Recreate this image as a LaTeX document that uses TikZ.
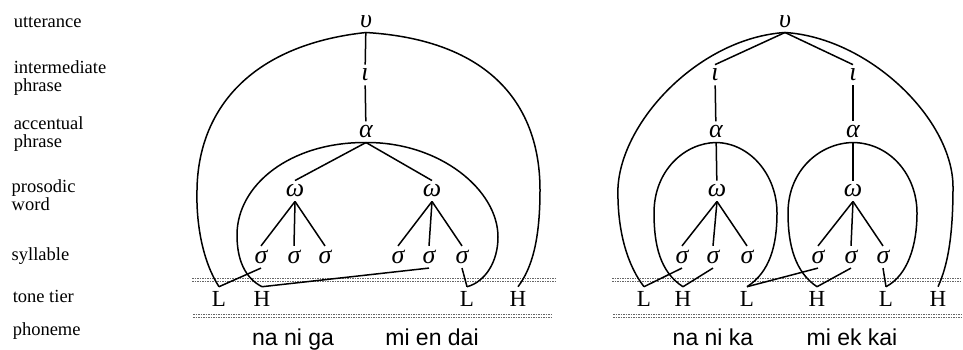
\documentclass[tikz,border=0pt]{standalone}
\usepackage{fontspec}
\setmainfont{Liberation Serif}
\newfontfamily\sylfont{Liberation Sans}

\begin{document}
\begin{tikzpicture}[x=1pt,y=-1pt,line width=1.5pt,
  lvl/.style={anchor=west,align=left,inner sep=0pt,font=\fontsize{18.5}{18}\selectfont},
  gk/.style={inner sep=3.5pt,font=\fontsize{26}{26}\selectfont\itshape},
  tone/.style={inner sep=4pt,font=\fontsize{23}{23}\selectfont},
  seg/.style={anchor=base,inner sep=0pt,font=\sylfont\fontsize{23}{23}\selectfont},
  tier/.style={black!60,line width=.9pt,dash pattern=on 1.5pt off 1pt}]
\useasboundingbox (0,0) rectangle (963,350);
% level names
\node[lvl] (utt) at (13,22) {utterance};
\node[lvl] (ip) at (13,78) {intermediate\\phrase};
\node[lvl] (ap) at (13,134) {accentual\\phrase};
\node[lvl] (pw) at (11,195) {prosodic\\word};
\node[lvl] (syl) at (11,256) {syllable};
\node[lvl] (tt) at (12,296) {tone tier};
\node[lvl] (ph) at (12,331) {phoneme};
% tiers
\foreach \y in {278.5,281} \draw[tier] (192,\y) -- (555,\y) (612,\y) -- (962,\y);
\foreach \y in {314.5,317} \draw[tier] (193,\y) -- (553,\y) (613,\y) -- (962,\y);

% left tree
\node[gk] (u1) at (366,22) {υ};
\node[gk] (i1) at (365,75) {ι};
\node[gk] (a1) at (366,132) {α};
\node[gk] (w1) at (295,191) {ω};
\node[gk] (w2) at (432,191) {ω};
\node[gk] (s1) at (261,257) {σ};
\node[gk] (s2) at (294,257) {σ};
\node[gk] (s3) at (325,257) {σ};
\node[gk] (s4) at (398,257) {σ};
\node[gk] (s5) at (429,257) {σ};
\node[gk] (s6) at (462,257) {σ};
\node[tone] (t1) at (219,299) {L};
\node[tone] (t2) at (262,299) {H};
\node[tone] (t3) at (467,299) {L};
\node[tone] (t4) at (518,299) {H};
\draw (u1) -- (i1) -- (a1);
\foreach \w in {w1,w2} \draw (a1.south) -- (\w.north);
\foreach \s in {s1,s2,s3} \draw (w1.south) -- (\s.north);
\foreach \s in {s4,s5,s6} \draw (w2.south) -- (\s.north);
\draw (s1.south) -- (t1.north);
\draw (s5.south) -- (t2.north);
\draw (s6.south) -- (t3.north);
\draw (t1.north) .. controls (203,262) and (196,225) .. (197,190)
  .. controls (198,110) and (250,45) .. (u1.south)
  .. controls (490,40) and (540,105) .. (540,190)
  .. controls (540,240) and (532,268) .. (t4.north);
\draw (t2.north) .. controls (245,278) and (237,260) .. (237,235)
  .. controls (237,185) and (290,142) .. (a1.south)
  .. controls (440,142) and (498,190) .. (498,237)
  .. controls (498,262) and (485,282) .. (t3.north);
\node[seg] (p1) at (293,345) {na ni ga};
\node[seg] (p2) at (432,345) {mi en dai};

% right tree
\node[gk] (u2) at (785,22) {υ};
\node[gk] (i2) at (715,75) {ι};
\node[gk] (i3) at (853,75) {ι};
\node[gk] (a2) at (716,132) {α};
\node[gk] (a3) at (853,132) {α};
\node[gk] (w3) at (717,191) {ω};
\node[gk] (w4) at (853,191) {ω};
\node[gk] (s7) at (682,257) {σ};
\node[gk] (s8) at (713,257) {σ};
\node[gk] (s9) at (747,257) {σ};
\node[gk] (s10) at (818,257) {σ};
\node[gk] (s11) at (851,257) {σ};
\node[gk] (s12) at (883,257) {σ};
\node[tone] (t5) at (644,299) {L};
\node[tone] (t6) at (683,299) {H};
\node[tone] (t7) at (747,299) {L};
\node[tone] (t8) at (817,299) {H};
\node[tone] (t9) at (886,299) {L};
\node[tone] (t10) at (938,299) {H};
\foreach \i in {i2,i3} \draw (u2.south) -- (\i.north);
\draw (i2) -- (a2) -- (w3);
\draw (i3) -- (a3) -- (w4);
\foreach \s in {s7,s8,s9} \draw (w3.south) -- (\s.north);
\foreach \s in {s10,s11,s12} \draw (w4.south) -- (\s.north);
\draw (s7.south) -- (t5.north);
\draw (s8.south) -- (t6.north);
\draw (s10.south) -- (t7.north);
\draw (s11.south) -- (t8.north);
\draw (s12.south) -- (t9.north);
\draw (t5.north) .. controls (625,262) and (617,225) .. (618,187)
  .. controls (622,120) and (700,38) .. (u2.south)
  .. controls (870,38) and (953,120) .. (953,187)
  .. controls (953,235) and (948,265) .. (t10.north);
\draw (t6.north) .. controls (660,272) and (654,245) .. (654,213)
  .. controls (654,170) and (685,143) .. (a2.south)
  .. controls (750,143) and (777,175) .. (777,213)
  .. controls (777,245) and (770,272) .. (t7.north);
\draw (t8.north) .. controls (795,272) and (788,245) .. (788,213)
  .. controls (788,170) and (820,143) .. (a3.south)
  .. controls (890,143) and (917,175) .. (917,213)
  .. controls (917,245) and (908,275) .. (t9.north);
\node[seg] (p3) at (713,345) {na ni ka};
\node[seg] (p4) at (852,345) {mi ek kai};
\end{tikzpicture}
\end{document}
